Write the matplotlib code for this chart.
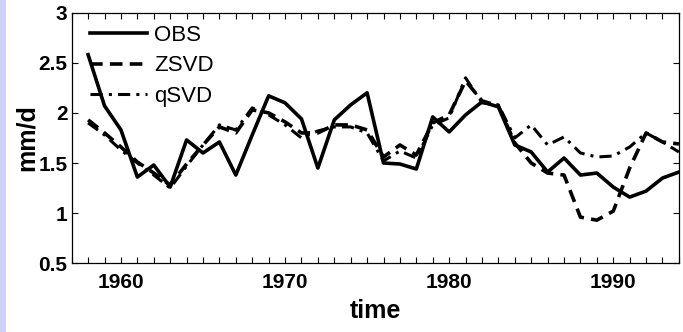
import matplotlib
matplotlib.use('Agg')
import matplotlib.pyplot as plt
from matplotlib.patches import Rectangle

years = list(range(1958, 1995))

obs = [2.58, 2.07, 1.83, 1.36, 1.48, 1.26, 1.73, 1.60, 1.71, 1.38,
       1.78, 2.17, 2.10, 1.94, 1.45, 1.93, 2.08, 2.20, 1.50, 1.49,
       1.44, 1.96, 1.81, 1.98, 2.11, 2.06, 1.68, 1.61, 1.41, 1.55,
       1.38, 1.40, 1.26, 1.16, 1.22, 1.35, 1.41]

zsvd = [1.93, 1.80, 1.66, 1.51, 1.40, 1.28, 1.49, 1.68, 1.86, 1.80,
        2.03, 2.00, 1.91, 1.80, 1.80, 1.88, 1.88, 1.83, 1.56, 1.68,
        1.58, 1.90, 1.98, 2.32, 2.12, 2.07, 1.70, 1.50, 1.40, 1.38,
        0.96, 0.93, 1.02, 1.45, 1.80, 1.71, 1.69]

qsvd = [1.90, 1.78, 1.63, 1.50, 1.38, 1.25, 1.47, 1.68, 1.88, 1.83,
        2.05, 1.98, 1.88, 1.75, 1.82, 1.86, 1.86, 1.80, 1.52, 1.62,
        1.55, 1.88, 1.95, 2.35, 2.10, 2.08, 1.75, 1.88, 1.68, 1.76,
        1.60, 1.56, 1.57, 1.66, 1.80, 1.71, 1.61]

plt.rcParams['font.family'] = ['Liberation Sans', 'DejaVu Sans']

fig = plt.figure(figsize=(6.83, 3.32), dpi=100)
# lavender strip on the left edge
fig.patches.append(Rectangle((0, 0), 6 / 683, 1, transform=fig.transFigure,
                             facecolor='#d0d0fc', edgecolor='none'))
ax = fig.add_axes([0.105, 0.207, 0.889, 0.755])

ax.plot(years, obs, color='black', lw=2.6, ls='-', label='OBS')
ax.plot(years, zsvd, color='black', lw=2.6, ls=(0, (3.5, 2)), label='ZSVD')
ax.plot(years, qsvd, color='black', lw=2.2, ls=(0, (4, 2, 1, 2)), label='qSVD')

ax.set_xlim(1957, 1994)
ax.set_ylim(0.5, 3)
ax.set_xticks([1960, 1970, 1980, 1990])
ax.set_xticks(range(1957, 1995), minor=True)
ax.set_yticks([0.5, 1, 1.5, 2, 2.5, 3])
ax.set_yticklabels(['0.5', '1', '1.5', '2', '2.5', '3'])
ax.tick_params(which='both', direction='in', top=True, right=True, width=0.8, length=4)
ax.tick_params(axis='x', labelsize=15, pad=7)
ax.tick_params(axis='y', labelsize=15, pad=3)
for s in ax.spines.values():
    s.set_linewidth(0.9)
for lab in ax.get_xticklabels() + ax.get_yticklabels():
    lab.set_fontweight('bold')

ax.set_xlabel('time', fontsize=18, fontweight='bold', labelpad=5)
ax.set_ylabel('mm/d', fontsize=18, fontweight='bold', labelpad=0)

ax.legend(loc='upper left', bbox_to_anchor=(0.022, 0.968), borderaxespad=0,
          frameon=False, fontsize=16, handlelength=2.6, borderpad=0.2,
          labelspacing=0.42, handletextpad=0.3)

fig.savefig('out.png', dpi=100)
